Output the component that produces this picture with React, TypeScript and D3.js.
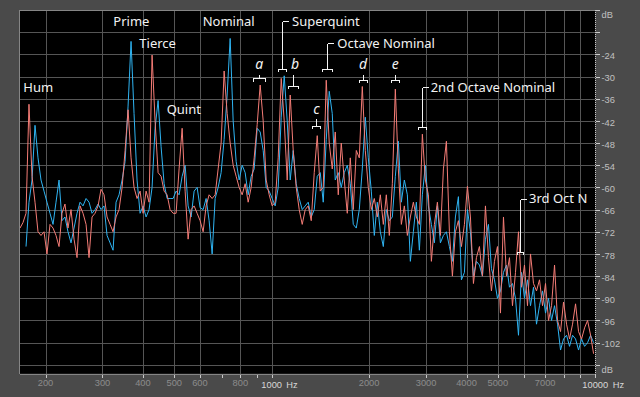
import React from 'react';
import * as d3 from 'd3';

// Frequency bins (Hz) shared by both channels
const freqs = [
  166.8, 170.4, 174.1, 177.8, 181.7, 185.6, 189.6, 193.7, 197.9, 202.1,
  206.5, 211.0, 215.5, 220.2, 224.9, 229.7, 234.7, 239.8, 245.0, 250.3,
  255.7, 261.2, 266.9, 272.6, 278.5, 284.5, 290.7, 296.9, 303.3, 309.9,
  316.6, 323.4, 330.4, 337.5, 344.9, 352.3, 359.9, 367.6, 375.5, 383.6,
  392.0, 400.5, 409.1, 417.9, 426.9, 436.1, 445.6, 455.2, 465.1, 475.1,
  485.3, 495.8, 506.5, 517.4, 528.7, 540.1, 551.7, 563.6, 575.8, 588.2,
  600.9, 613.9, 627.1, 640.6, 654.6, 668.7, 683.1, 697.8, 712.9, 728.3,
  744.1, 760.2, 776.6, 793.3, 810.5, 827.9, 845.8, 864.1, 882.8, 901.8,
  921.3, 941.2, 961.5, 982.2, 1003.5, 1025.1, 1047.3, 1070.0, 1093.1, 1116.7,
  1140.8, 1165.4, 1190.6, 1216.3, 1242.6, 1269.4, 1296.8, 1324.9, 1353.5, 1382.7,
  1412.6, 1443.1, 1474.2, 1506.0, 1538.6, 1571.8, 1605.8, 1640.5, 1675.9, 1712.1,
  1749.2, 1786.9, 1825.5, 1864.9, 1905.3, 1946.4, 1988.4, 2031.5, 2075.3, 2120.1,
  2166.1, 2212.8, 2260.6, 2309.4, 2359.3, 2410.3, 2462.3, 2515.6, 2569.9, 2625.4,
  2682.2, 2740.1, 2799.2, 2859.6, 2921.6, 2984.6, 3049.0, 3115.1, 3182.3, 3251.0,
  3321.4, 3393.1, 3466.3, 3541.1, 3617.7, 3695.8, 3775.5, 3857.4, 3940.6, 4025.6,
  4112.8, 4201.5, 4292.2, 4384.8, 4479.8, 4576.5, 4675.2, 4776.5, 4879.5, 4984.8,
  5092.8, 5202.7, 5315.0, 5429.7, 5547.3, 5667.0, 5789.3, 5914.6, 6042.3, 6172.7,
  6306.4, 6442.5, 6581.5, 6723.5, 6869.1, 7017.3, 7168.7, 7324.0, 7482.1, 7643.5,
  7809.1, 7977.6, 8149.8, 8325.6, 8505.9, 8689.5, 8877.0, 9069.2, 9264.9, 9464.8,
  9669.8, 9878.5,
];

// Red channel (dB)
const redDb = [
  -71, -69.5, -67, -37.5, -57, -64, -72, -73, -72, -78,
  -70, -71, -73, -76, -67, -64.5, -71, -66, -74, -79,
  -65, -67, -70, -79, -68, -67, -65, -60.5, -62, -68,
  -70, -72, -68, -66, -60, -50, -39, -52, -60, -63,
  -61, -67, -61, -64, -24.2, -42, -56, -57, -61, -62,
  -66, -67, -67, -55, -44, -61, -74, -66, -65, -67,
  -69, -72, -65, -62, -63, -62, -55, -48, -28.5, -40,
  -48, -54, -57, -60, -62, -59, -64, -60, -52, -43,
  -32.3, -42, -58, -62, -65, -64, -52, -30.5, -42, -58,
  -35, -50, -60, -66, -70, -66, -65, -69, -56, -46,
  -61, -60, -31, -48, -55, -45, -62, -48, -58, -67,
  -52, -66, -50, -52, -32.7, -50, -60, -66, -63, -68,
  -62, -70, -62, -73, -59, -33.4, -55, -70, -65, -73,
  -68, -64, -68, -70, -45.6, -58, -62, -80, -70, -64,
  -73, -55, -47.5, -72, -84, -72, -69, -76, -70, -59.7,
  -68, -86, -79, -76, -84, -65, -79, -88, -80, -76,
  -94, -68, -84, -79, -92, -83, -72, -87, -81, -92,
  -78, -86, -88, -85, -92, -86, -96, -92, -81, -96,
  -99, -91, -97, -101, -97, -91.5, -99, -101, -98, -96,
  -100, -105,
];

// Blue channel (dB)
const blueDb = [
  null, null, -76, -64, -58, -43.2, -52, -58, -61, -64,
  -67, -70, -64, -58, -69, -68, -72, -75, -71, -67,
  -64, -65, -63, -64, -67, -66, -64.5, -66, -65, -73,
  -75, -77, -64, -62, -58, -53, -38, -20.5, -40, -58,
  -67, -65, -68, -66, -60, -44, -36.5, -49, -59, -63,
  -63, -63, -61, -62, -57, -54, -65, -68, -61, -60,
  -65.5, -66, -63, -69, -78, -63, -60, -56, -47, -35,
  -19.7, -42, -53, -58, -54, -56, -62, -57, -55, -44,
  -45, -50, -60, -61, -63, -65, -60, -41, -29.8, -42,
  -58, -50, -59, -63, -66, -65, -64, -68, -66, -57,
  -56, -64, -47, -34, -40, -58, -56, -60, -56, -54,
  -59, -70, -71, -66, -55, -41, -52, -61, -73, -64,
  -72, -76, -66, -69, -68, -57, -47.5, -64, -58, -62,
  -80, -72, -64, -77, -62, -54, -65, -70, -75, -65,
  -75, -73, -72, -76, -80, -68, -62.5, -85, -83, -66,
  -72, -84, -80, -81, -84, -74, -70, -82, -85, -90,
  -88, -83, -81, -87, -86, -90, -100, -83, -90, -85,
  -92, -87, -97, -92, -88, -94, -90, -96, -92, -97,
  -104, -101, -100, -103, -100, -101, -104, -101, -103, -102,
  -100, -102,
];

const gridFreqs = [200, 300, 400, 500, 600, 800, 1000, 2000, 3000, 4000, 5000, 6000, 7000, 8000, 9000];
const tickFreqs = [200, 300, 400, 500, 600, 700, 800, 900, 1000, 2000, 3000, 4000, 5000, 6000, 7000, 8000, 9000, 10000];
const labelFreqs = [200, 300, 400, 500, 600, 800, 2000, 3000, 4000, 5000, 7000];
const majorLabelFreqs = [1000, 10000];
const dbGrid = [-18, -24, -30, -36, -42, -48, -54, -60, -66, -72, -78, -84, -90, -96, -102, -108];
const dbLabels = [-24, -30, -36, -42, -48, -54, -60, -66, -72, -78, -84, -90, -96, -102];
const dbTickAll = [-12, ...dbGrid];

// Annotation layout (pixels)
const annoTexts = [
  { t: 'Hum', x: 23.3, y: 92.3 },
  { t: 'Prime', x: 113.3, y: 26 },
  { t: 'Tierce', x: 139.3, y: 48.3 },
  { t: 'Quint', x: 166.7, y: 114 },
  { t: 'Nominal', x: 202.7, y: 26 },
  { t: 'Superquint', x: 292, y: 26 },
  { t: 'Octave Nominal', x: 337.3, y: 48.3 },
  { t: '2nd Octave Nominal', x: 430.7, y: 91.7 },
  { t: '3rd Oct N', x: 529, y: 202.7 },
];
const italicTexts = [
  { t: 'a', x: 255.3, y: 69 },
  { t: 'b', x: 291, y: 69 },
  { t: 'c', x: 313.3, y: 114 },
  { t: 'd', x: 359, y: 69 },
  { t: 'e', x: 391.7, y: 69 },
];
const brackets = [
  { x: 259, top: 74, bar: 78, hw: 6, tick: 3, lead: 0 },
  { x: 293, top: 74, bar: 86, hw: 5, tick: 2, lead: 0 },
  { x: 282, top: 21, bar: 69, hw: 4, tick: 2, lead: 6 },
  { x: 327, top: 43, bar: 69, hw: 5, tick: 2, lead: 6 },
  { x: 316, top: 118, bar: 126, hw: 4, tick: 2, lead: 0 },
  { x: 363, top: 74, bar: 80, hw: 4, tick: 2, lead: 0 },
  { x: 395, top: 74, bar: 80, hw: 4, tick: 2, lead: 0 },
  { x: 422, top: 87, bar: 127, hw: 4, tick: 2, lead: 6 },
  { x: 520, top: 199, bar: 252, hw: 3, tick: 2, lead: 6 },
];

const W = 640, H = 397;
const L = 20, R = 595.3, T = 10, B = 373.7;

export default function App() {
  const x = d3.scaleLog().domain([166.8, 10000]).range([L, R]);
  const y = d3.scaleLinear().domain([-110.4, -12]).range([B, T]);
  const px = (v: number) => Math.round(v) + 0.5;

  const mk = (vals: (number | null)[]) =>
    d3.line<number>()
      .defined((_, i) => vals[i] != null)
      .x((_, i) => x(freqs[i]))
      .y((_, i) => y(vals[i] as number))
      .curve(d3.curveLinear)(freqs.map((_, i) => i)) || '';

  const redPath = mk(redDb);
  const bluePath = mk(blueDb);

  const bracketPath = (b: any) => {
    const sx = b.x + 0.5, by = b.bar + 0.5, tp = b.top + 0.5;
    let d = `M${sx},${tp}V${by}M${sx - b.hw},${by + b.tick}V${by}H${sx + b.hw}V${by + b.tick}`;
    if (b.lead) d += `M${sx},${tp}H${sx + b.lead}`;
    return d;
  };

  return (
    <svg width={W} height={H} style={{ position: 'absolute', left: 0, top: 0, display: 'block' }}>
      <rect x={0} y={0} width={W} height={H} fill="#4a4a4a" />
      <rect x={L} y={T} width={R - L} height={B - T} fill="#000" />
      <defs>
        <clipPath id="plotclip">
          <rect x={L} y={T} width={R - L} height={B - T} />
        </clipPath>
      </defs>
      <g shapeRendering="crispEdges">
        {gridFreqs.map((f) => (
          <line key={'gx' + f} x1={px(x(f))} x2={px(x(f))} y1={T} y2={B} stroke="#555" />
        ))}
        {dbGrid.map((v) => (
          <line key={'gy' + v} x1={L} x2={R} y1={px(y(v))} y2={px(y(v))} stroke="#555" />
        ))}
      </g>
      <g clipPath="url(#plotclip)" fill="none" strokeWidth={1} strokeLinejoin="miter">
        <path d={bluePath} stroke="#2fb4f2" />
        <path d={redPath} stroke="#f47c76" />
      </g>
      <g shapeRendering="crispEdges" stroke="#858585">
        <line x1={L - 0.5} x2={R} y1={T + 0.5} y2={T + 0.5} />
        <line x1={L - 0.5} x2={L - 0.5} y1={T} y2={B} />
        <line x1={L - 0.5} x2={R} y1={px(B)} y2={px(B)} />
      </g>
      <g shapeRendering="crispEdges" stroke="#c8c8c8">
        <line x1={595.5} x2={595.5} y1={T} y2={B + 1} strokeDasharray="1 1" />
        {dbTickAll.map((v) => (
          <line key={'ty' + v} x1={596} x2={600} y1={px(y(v))} y2={px(y(v))} />
        ))}
        {tickFreqs.map((f) => (
          <line key={'tx' + f} x1={px(x(f))} x2={px(x(f))} y1={B + 1} y2={B + 4} />
        ))}
      </g>
      <g fontFamily="'Liberation Sans', Arial, sans-serif" fontSize={9.3}>
        {labelFreqs.map((f) => (
          <text key={'lx' + f} x={x(f)} y={386} textAnchor="middle" fill="#8c8c8c">{f}</text>
        ))}
        {majorLabelFreqs.map((f) => (
          <g key={'mx' + f}>
            <text x={x(f)} y={387.5} textAnchor="middle" fill="#d8d8d8">{f}</text>
            <text x={x(f) + 14.5 + (f >= 10000 ? 3 : 0)} y={387.5} fill="#d8d8d8">Hz</text>
          </g>
        ))}
        {dbLabels.map((v) => (
          <text key={'ly' + v} x={601.5} y={y(v) + 4.7} fill="#c0c0c0">{v}</text>
        ))}
        <text x={601.5} y={y(-12) + 7.7} fill="#c0c0c0">dB</text>
        <text x={601.5} y={y(-108) + 7.7} fill="#c0c0c0">dB</text>
      </g>
      <g fill="none" stroke="#f4f4f4" strokeWidth={1} shapeRendering="crispEdges">
        {brackets.map((b, i) => (
          <path key={'br' + i} d={bracketPath(b)} />
        ))}
      </g>
      <g fontFamily="'Noto Sans', sans-serif" fontSize={13} fill="#f2f2f2">
        {annoTexts.map((a) => (
          <text key={a.t} x={a.x} y={a.y}>{a.t}</text>
        ))}
      </g>
      <g fontFamily="'Noto Sans', sans-serif" fontSize={14} fontStyle="italic" fill="#f2f2f2">
        {italicTexts.map((a) => (
          <text key={a.t} x={a.x} y={a.y}>{a.t}</text>
        ))}
      </g>
    </svg>
  );
}
